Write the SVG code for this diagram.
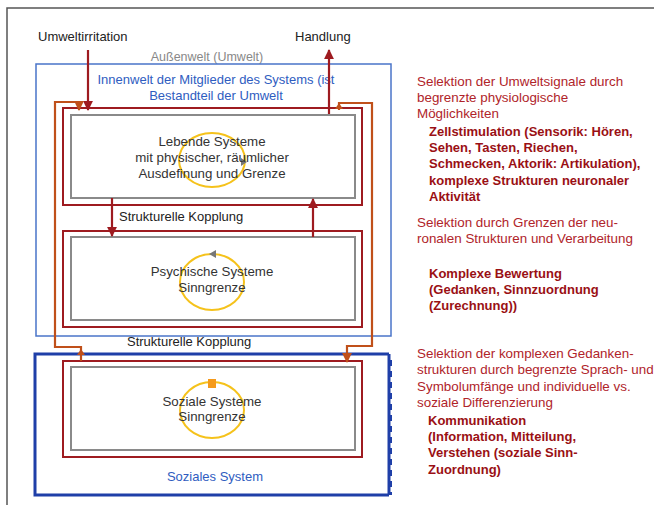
<svg xmlns="http://www.w3.org/2000/svg" width="654" height="505" viewBox="0 0 654 505">
  <defs>
    <marker id="arrRed" viewBox="0 0 10 10" refX="9" refY="5" markerWidth="4.5" markerHeight="4.5" orient="auto-start-reverse">
      <path d="M0,0 L10,5 L0,10 z" fill="#9e1b20"/>
    </marker>
    <marker id="arrOrange" viewBox="0 0 10 10" refX="9" refY="5" markerWidth="4.5" markerHeight="4.5" orient="auto-start-reverse">
      <path d="M0,0 L10,5 L0,10 z" fill="#c0501a"/>
    </marker>
    <style>
      .sans { font-family: "Liberation Sans", Arial, sans-serif; }
      .lbl { font-size: 13px; fill: #222; }
      .sys { font-size: 13.3px; fill: #333; text-anchor: middle; }
      .blue { font-size: 13px; fill: #2f5dbf; text-anchor: middle; }
      .note { font-size: 13.4px; fill: #b0242a; }
      .noteb { font-size: 13px; fill: #9a1014; font-weight: bold; }
      .grayRect { fill: #fff; stroke: #8a8a8a; stroke-width: 2; }
      .redRect { fill: none; stroke: #9e1b20; stroke-width: 2; }
      .redLine { fill: none; stroke: #9e1b20; stroke-width: 2.2; }
      .orangeLine { fill: none; stroke: #c0501a; stroke-width: 2.2; }
      .ring { fill: none; stroke: #f5c21b; stroke-width: 2; }
    </style>
  </defs>

  <rect width="654" height="505" fill="#fff"/>

  <!-- page frame -->
  <path d="M7,505 L7,8 L654,8" fill="none" stroke="#555" stroke-width="1.5"/>

  <!-- environment labels -->
  <text class="sans lbl" x="38" y="41">Umweltirritation</text>
  <text class="sans lbl" x="295" y="41">Handlung</text>
  <text class="sans" x="207" y="61" font-size="12.5" fill="#888" text-anchor="middle">Außenwelt (Umwelt)</text>

  <!-- inner world of the members -->
  <g id="innenwelt">
    <rect x="36" y="64" width="355" height="272" fill="none" stroke="#4a74c9" stroke-width="1.5"/>
    <text class="sans blue" x="216" y="84">Innenwelt der Mitglieder des Systems (ist</text>
    <text class="sans blue" x="216" y="100">Bestandteil der Umwelt</text>
  </g>

  <!-- social system frame -->
  <g id="soziales-system">
    <path d="M389,354 L35,354 L35,495 L389,495" fill="none" stroke="#1f3fa8" stroke-width="3"/>
    <path d="M389,354 L389,495" fill="none" stroke="#1f3fa8" stroke-width="3"/>
    <path d="M391,360 L391,495" fill="none" stroke="#1f3fa8" stroke-width="2" stroke-dasharray="6,5"/>
    <text class="sans blue" x="215" y="481">Soziales System</text>
  </g>

  <!-- living systems -->
  <g id="lebende-systeme">
    <rect class="redRect" x="63" y="108" width="299" height="97"/>
    <rect class="grayRect" x="71" y="115" width="284" height="83"/>
    <ellipse class="ring" cx="212" cy="160" rx="33" ry="27"/>
    <path d="M241,158 L247,162 L241,166 z" fill="#777"/>
    <text class="sans sys" x="212" y="146">Lebende Systeme</text>
    <text class="sans sys" x="212" y="162">mit physischer, räumlicher</text>
    <text class="sans sys" x="212" y="178">Ausdefinung und Grenze</text>
  </g>

  <!-- psychic systems -->
  <g id="psychische-systeme">
    <rect class="redRect" x="63" y="231" width="299" height="96"/>
    <rect class="grayRect" x="71" y="237" width="284" height="83"/>
    <ellipse class="ring" cx="212" cy="282" rx="32" ry="28"/>
    <path d="M209,254 L216,250 L216,258 z" fill="#777"/>
    <text class="sans sys" x="212" y="276">Psychische Systeme</text>
    <text class="sans sys" x="212" y="292">Sinngrenze</text>
  </g>

  <!-- social systems -->
  <g id="soziale-systeme">
    <rect class="redRect" x="63" y="361" width="299" height="96"/>
    <rect class="grayRect" x="71" y="367" width="284" height="83"/>
    <ellipse class="ring" cx="212" cy="410" rx="32" ry="28"/>
    <rect x="208" y="379" width="8" height="9" fill="#f59a1b"/>
    <text class="sans sys" x="212" y="406">Soziale Systeme</text>
    <text class="sans sys" x="212" y="421">Sinngrenze</text>
  </g>

  <!-- coupling labels -->
  <text class="sans lbl" x="119" y="221" font-size="12.5">Strukturelle Kopplung</text>
  <text class="sans lbl" x="127" y="346" font-size="12.5" fill="#333">Strukturelle Kopplung</text>

  <!-- connectors -->
  <g id="connectors">
    <!-- irritation in, action out -->
    <path class="redLine" d="M88,50 L88,110" marker-end="url(#arrRed)"/>
    <path class="redLine" d="M329,114 L329,50" marker-end="url(#arrRed)"/>
    <!-- coupling living / psychic -->
    <path class="redLine" d="M112,198 L112,236" marker-end="url(#arrRed)"/>
    <path class="redLine" d="M313,237 L313,199" marker-end="url(#arrRed)"/>
    <!-- coupling to the social system, left loop -->
    <path class="orangeLine" d="M81,361 L81,347 L55,347 L55,102 L79,102 L79,110" marker-end="url(#arrOrange)"/>
    <path d="M77,355 L81,349 L85,355 z" fill="#c0501a"/>
    <!-- coupling to the social system, right loop -->
    <path class="orangeLine" d="M339,110 L339,103 L372,103 L372,346 L347,346 L347,362" marker-end="url(#arrOrange)"/>
    <path d="M335,109 L339,103 L343,109 z" fill="#c0501a"/>
  </g>

  <!-- annotations -->
  <g id="annotations" class="sans">
    <text class="note" x="417" y="86">Selektion der Umweltsignale durch</text>
    <text class="note" x="417" y="102">begrenzte physiologische</text>
    <text class="note" x="417" y="118">Möglichkeiten</text>
    <text class="noteb" x="429" y="136">Zellstimulation (Sensorik: Hören,</text>
    <text class="noteb" x="429" y="152">Sehen, Tasten, Riechen,</text>
    <text class="noteb" x="429" y="168">Schmecken, Aktorik: Artikulation),</text>
    <text class="noteb" x="429" y="185">komplexe Strukturen neuronaler</text>
    <text class="noteb" x="429" y="201">Aktivität</text>

    <text class="note" x="417" y="227">Selektion durch Grenzen der neu-</text>
    <text class="note" x="417" y="243">ronalen Strukturen und Verarbeitung</text>
    <text class="noteb" x="429" y="278">Komplexe Bewertung</text>
    <text class="noteb" x="429" y="294">(Gedanken, Sinnzuordnung</text>
    <text class="noteb" x="429" y="310">(Zurechnung))</text>

    <text class="note" x="417" y="358">Selektion der komplexen Gedanken-</text>
    <text class="note" x="417" y="374">strukturen durch begrenzte Sprach- und</text>
    <text class="note" x="417" y="391">Symbolumfänge und individuelle vs.</text>
    <text class="note" x="417" y="407">soziale Differenzierung</text>
    <text class="noteb" x="428" y="425">Kommunikation</text>
    <text class="noteb" x="428" y="441">(Information, Mitteilung,</text>
    <text class="noteb" x="428" y="457">Verstehen (soziale Sinn-</text>
    <text class="noteb" x="428" y="474">Zuordnung)</text>
  </g>
</svg>
